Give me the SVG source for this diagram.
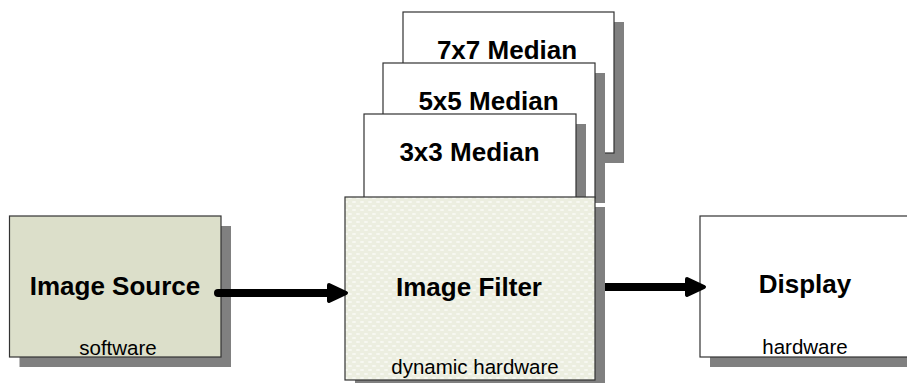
<svg xmlns="http://www.w3.org/2000/svg" width="907" height="383" viewBox="0 0 907 383">
<style>
.box{stroke:#333;stroke-width:1.2}
.shadow{fill:#808080}
.big{font-family:"Liberation Sans",Arial,sans-serif;font-weight:bold;font-size:26px;fill:#000;text-anchor:middle}
.small{font-family:"Liberation Sans",Arial,sans-serif;font-size:20.5px;fill:#000;text-anchor:middle}
.conn{stroke:#000;stroke-width:8;fill:none}
</style>
<defs>
<pattern id="dots" width="8" height="8" patternUnits="userSpaceOnUse">
<rect width="8" height="8" fill="#ECEEE0"/>
<ellipse cx="2" cy="2" rx="2.2" ry="1" fill="#fff" opacity="0.6"/>
<ellipse cx="6" cy="6" rx="2.2" ry="1" fill="#fff" opacity="0.6"/>
</pattern>
<marker id="ah" markerUnits="userSpaceOnUse" markerWidth="30" markerHeight="30" refX="0" refY="0" viewBox="-4 -12 30 24" orient="auto" overflow="visible">
<path d="M0,-8 L17,0 L0,8 Z" fill="#000" stroke="#000" stroke-width="4" stroke-linejoin="round"/>
</marker>
</defs>
<rect width="907" height="383" fill="#fff"/>

<g id="median7">
<rect class="shadow" x="413" y="22" width="211" height="141"/>
<rect class="box" x="403" y="12" width="211" height="141" fill="#fff"/>
<text class="big" x="507" y="59">7x7 Median</text>
</g>
<g id="median5">
<rect class="shadow" x="393" y="73" width="212" height="130"/>
<rect class="box" x="383" y="63" width="212" height="135" fill="#fff"/>
<text class="big" x="488.5" y="110">5x5 Median</text>
</g>
<g id="median3">
<rect class="shadow" x="374" y="124" width="212" height="80"/>
<rect class="box" x="364" y="114" width="212" height="90" fill="#fff"/>
<text class="big" x="469.5" y="161">3x3 Median</text>
</g>

<g id="imagesource">
<rect class="shadow" x="19.5" y="226" width="211.5" height="141"/>
<rect class="box" x="9.5" y="216" width="211.5" height="141" fill="#DCDFCA"/>
<text class="big" x="115" y="295">Image Source</text>
<text class="small" x="118" y="355">software</text>
</g>

<g id="imagefilter">
<rect class="shadow" x="355" y="207" width="250" height="183"/>
<rect class="box" x="345" y="197" width="250" height="183" fill="url(#dots)"/>
<text class="big" x="469" y="296">Image Filter</text>
<text class="small" x="475" y="374">dynamic hardware</text>
</g>

<g id="display">
<rect class="shadow" x="710" y="226" width="210" height="141"/>
<rect class="box" x="700" y="216" width="210" height="141" fill="#fff"/>
<text class="big" x="805" y="293">Display</text>
<text class="small" x="805" y="354">hardware</text>
</g>

<g id="connectors">
<line class="conn" x1="218" y1="293" x2="329" y2="293" stroke-linecap="round" marker-end="url(#ah)"/>
<line class="conn" x1="605" y1="287" x2="687" y2="287" marker-end="url(#ah)"/>
</g>
</svg>
